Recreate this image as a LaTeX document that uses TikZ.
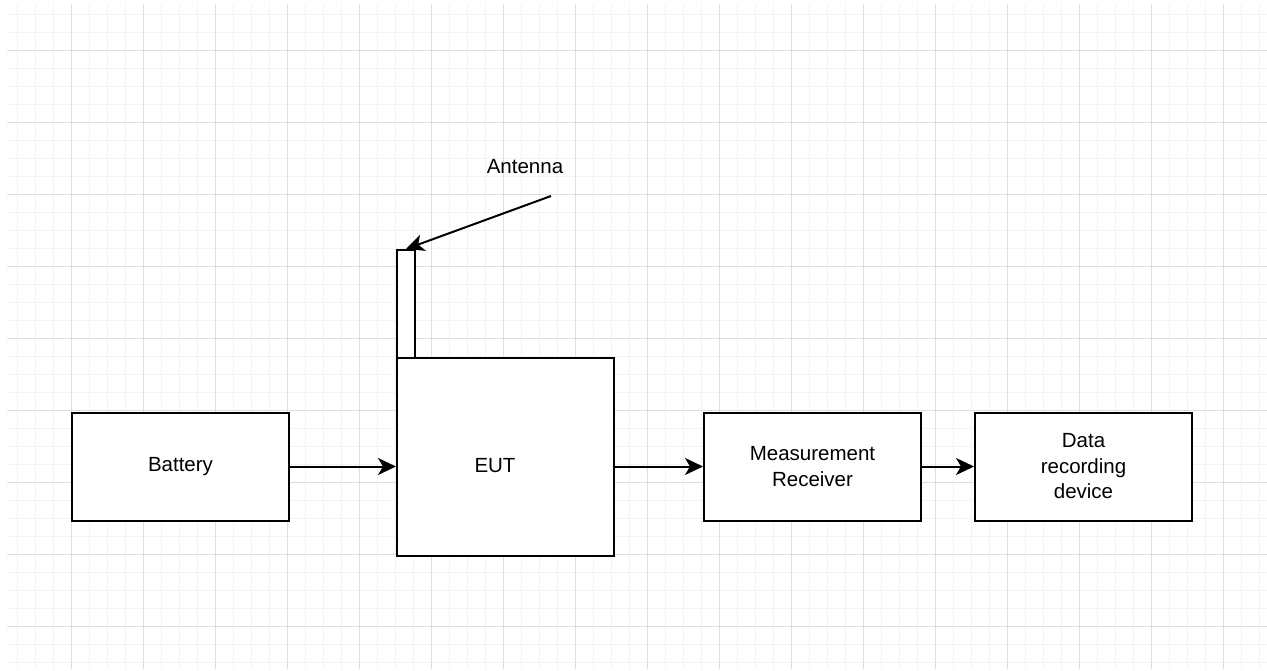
\documentclass[tikz,border=0pt]{standalone}
\usepackage{fontspec}
\setmainfont{Liberation Sans}
\usetikzlibrary{arrows.meta, positioning}
\definecolor{gridminor}{HTML}{F3F3F3}
\definecolor{gridmajor}{HTML}{DEDEDE}
\tikzset{%
	block/.style={
		draw,
		line width=2pt,
		minimum width=217pt,
		minimum height=108pt,
		inner sep=0pt,
		align=center,
		font=\fontsize{20.5}{25.5}\selectfont
	},
	label text/.style={
		font=\fontsize{20.5}{25.5}\selectfont
	},
	flow/.style={
		line width=2pt,
		-{Stealth[length=18pt, width=17pt, inset=5pt]}
	},
}

\begin{document}
\begin{tikzpicture}[x=1pt, y=-1pt]
			\useasboundingbox (0,0) rectangle (1267,670);
			
			% Draw the background grid
			\foreach \x in {17,35,...,1267} \draw[gridminor, line width=1pt] (\x,4) -- (\x,669);
			\foreach \y in {14,32,...,669} \draw[gridminor, line width=1pt] (7,\y) -- (1267,\y);
			\foreach \x in {71,143,...,1267} \draw[gridmajor, line width=1pt] (\x,4) -- (\x,669);
			\foreach \y in {50,122,...,669} \draw[gridmajor, line width=1pt] (7,\y) -- (1267,\y);
			
			% Draw the blocks
			\node[block, fill=white] (battery) at (180.5,466.5) {Battery};
			\node[block, fill=white, minimum height=198pt] (eut) at (505.5,457) {};
			\node[label text] (eutname) at (495,466) {EUT};
			\node[block, fill=white, minimum width=18pt, minimum height=108pt] (ant) at (406,304) {};
			\node[block, fill=white] (receiver) at (812.5,466.5) {Measurement\\Receiver};
			\node[block, fill=white] (recorder) at (1083.5,466.5) {Data\\recording\\device};
			
			% Draw the antenna label and pointer
			\node[label text] (antname) at (525,167) {Antenna};
			\coordinate (pointer) at (551,196);
			\draw[flow] (pointer) -- (ant.north);
			
			% Draw arrows between blocks
			\draw[flow] (battery.east) -- (battery.east -| eut.west);
			\draw[flow] (receiver.west -| eut.east) -- (receiver.west);
			\draw[flow] (receiver.east) -- (recorder.west);
			
		\end{tikzpicture}
\end{document}
